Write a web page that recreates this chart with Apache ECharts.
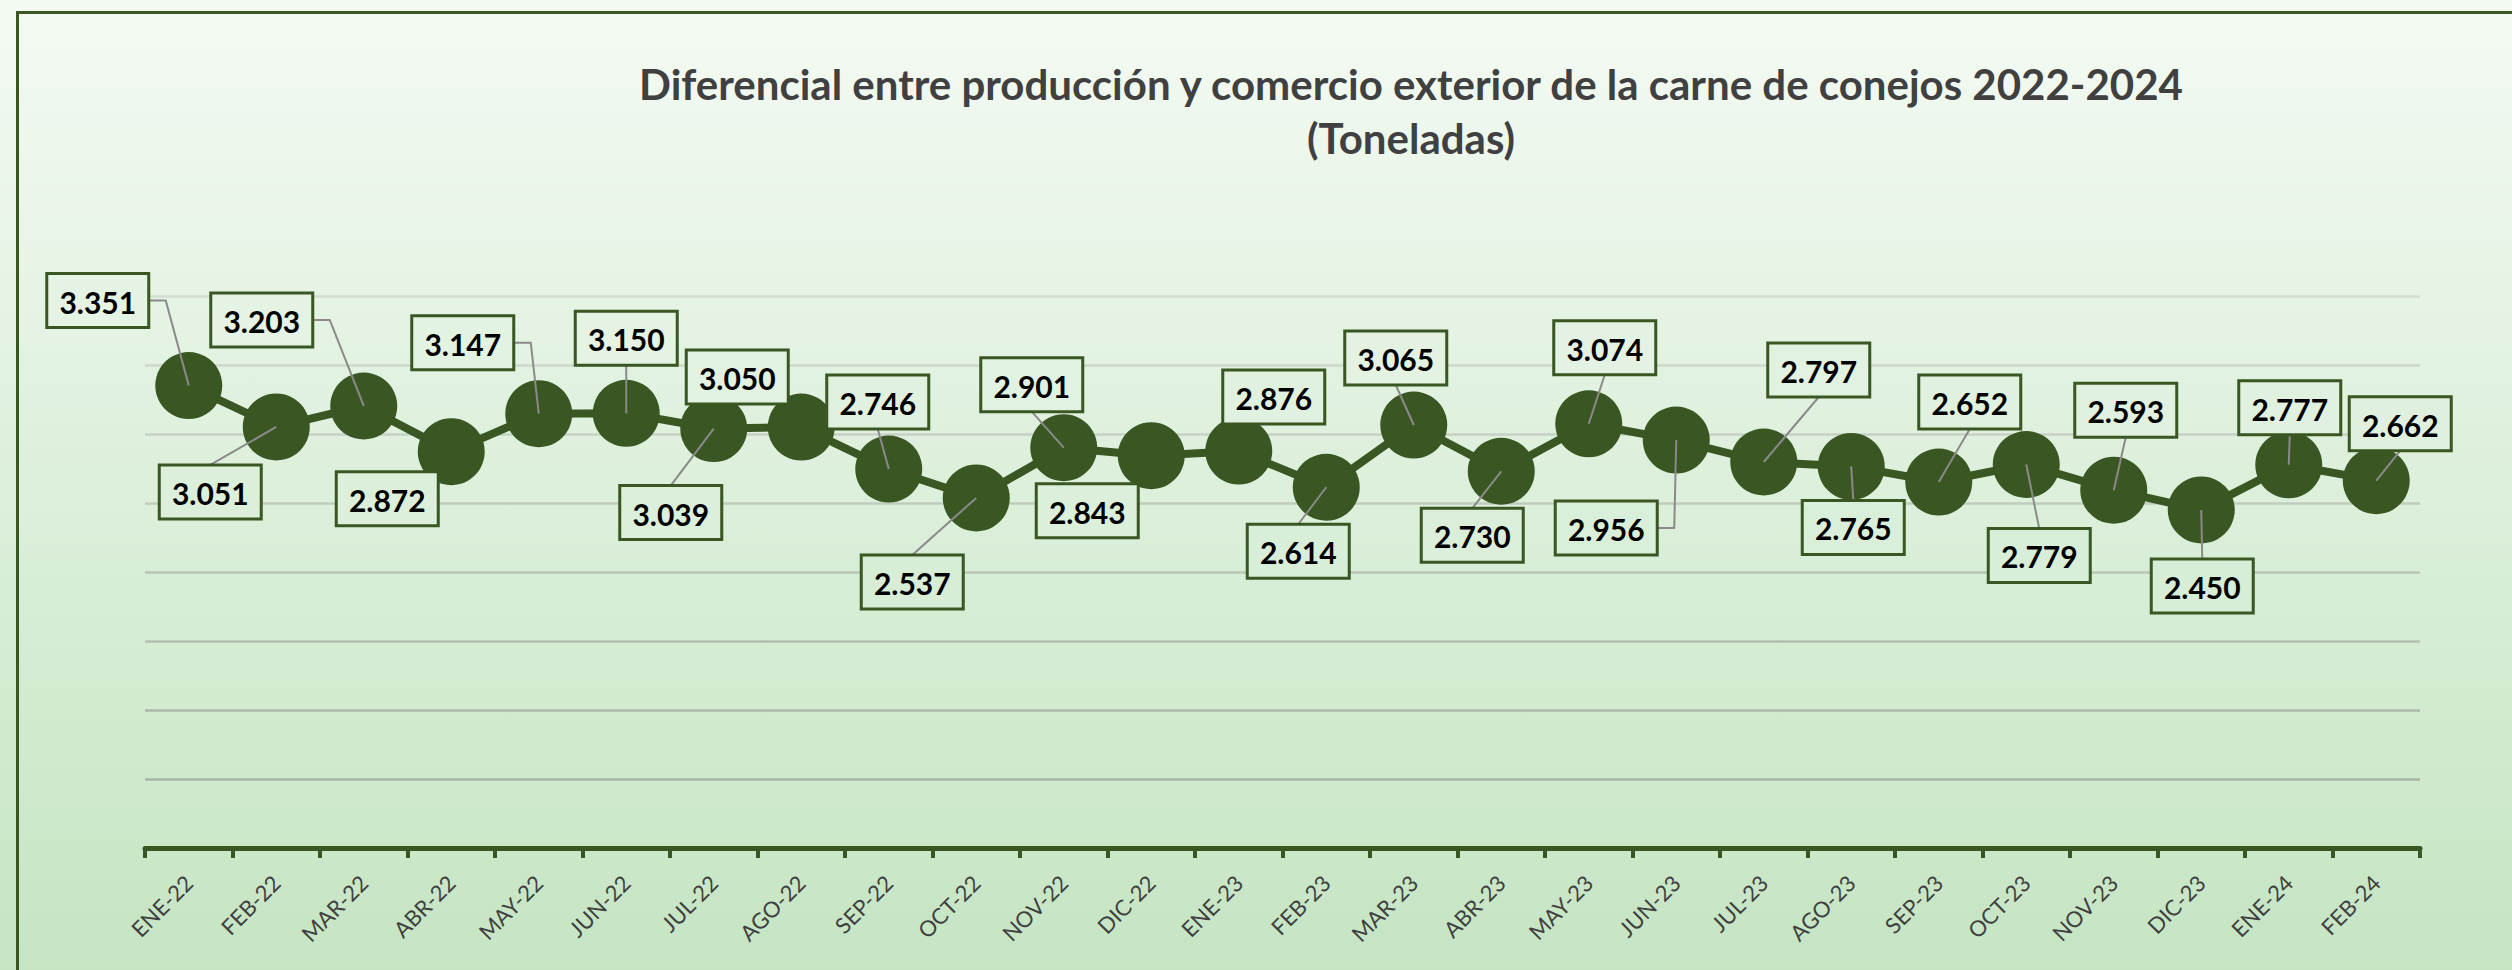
<!DOCTYPE html>
<html>
<head>
<meta charset="utf-8">
<script src="https://cdn.jsdelivr.net/npm/echarts@6/dist/echarts.min.js"></script>
<style>
  html, body { margin: 0; padding: 0; }
  #chart { width: 2512px; height: 970px; background: linear-gradient(to bottom, #f4faf3 0%, #c5e5c3 100%); }
</style>
</head>
<body>
<div id="chart"></div>
<script>
// ---- data ----
const titleLine1 = 'Diferencial entre producción y comercio exterior de la carne de conejos 2022-2024';
const titleLine2 = '(Toneladas)';
const categories = ['ENE-22','FEB-22','MAR-22','ABR-22','MAY-22','JUN-22','JUL-22','AGO-22','SEP-22','OCT-22','NOV-22','DIC-22',
  'ENE-23','FEB-23','MAR-23','ABR-23','MAY-23','JUN-23','JUL-23','AGO-23','SEP-23','OCT-23','NOV-23','DIC-23','ENE-24','FEB-24'];
const values = [3351,3051,3203,2872,3147,3150,3039,3050,2746,2537,2901,2843,
  2876,2614,3065,2730,3074,2956,2797,2765,2652,2779,2593,2450,2777,2662];
const yMin = 0, yMax = 4000, yStep = 500;

// ---- layout (label box offsets from point centre, leader type) ----
const labelOffsets = [
  [-91,-85,'elbow'],[-66,65,'line'],[-102,-86,'elbow'],[-64,47,'none'],[-76,-71,'elbow'],[0,-75,'line'],
  [-43,84,'line'],[-64,-50,'none'],[-11,-67,'line'],[-64,84,'line'],[-32,-63,'line'],[-64,55,'none'],
  [35,-54,'none'],[-28,64,'line'],[-18,-67,'line'],[-29,64,'line'],[16,-76,'line'],[-70,88,'elbow'],
  [55,-92,'line'],[2,61,'line'],[31,-80,'line'],[13,91,'line'],[12,-80,'line'],[1,76,'line'],
  [1,-57,'line'],[24,-57,'line']
];

const GREEN = '#3a5723';
const BOX_W = 102, BOX_H = 54;
function fmt(v) { return String(v).replace(/\B(?=(\d{3})+(?!\d))/g, '.'); }
function bgAt(y) {
  const t = Math.max(0, Math.min(1, y / 970));
  const c0 = [244,250,243], c1 = [197,229,195];
  const c = c0.map((a, i) => Math.round(a + (c1[i] - a) * t));
  return 'rgb(' + c.join(',') + ')';
}

const chart = echarts.init(document.getElementById('chart'), null, { renderer: 'svg' });
const option = {
  backgroundColor: 'transparent',
  animation: false,
  title: {
    text: titleLine1 + '\n' + titleLine2,
    left: 1406,
    top: 52,
    textAlign: 'center',
    textStyle: { fontFamily: 'Lato', fontWeight: 'bold', fontSize: 42, color: '#404040', lineHeight: 54 }
  },
  graphic: [{
    type: 'rect', left: 15, top: 10, silent: true,
    shape: { x: 0, y: 0, width: 3000, height: 2000 },
    style: { fill: 'none', stroke: GREEN, lineWidth: 3 }
  }],
  grid: { left: 145, right: 92, top: 296, bottom: 122, containLabel: false },
  xAxis: {
    type: 'category',
    data: categories,
    boundaryGap: true,
    axisLine: { show: true, lineStyle: { color: GREEN, width: 5 } },
    axisTick: { show: true, alignWithLabel: false, interval: 0, length: 10, lineStyle: { color: GREEN, width: 4 } },
    axisLabel: { interval: 0, rotate: 45, margin: 31, fontFamily: 'Lato', fontSize: 22, color: '#404040' }
  },
  yAxis: {
    type: 'value', min: yMin, max: yMax, interval: yStep,
    axisLabel: { show: false }, axisLine: { show: false }, axisTick: { show: false },
    splitLine: { show: true, lineStyle: { width: 2.5,
      color: ['#a8b4a6','#a8b4a6','#adbaab','#b3c0b1','#b9c6b7','#bfccbd','#c6d1c4','#cdd7cb','#d5ddd3'] } }
  },
  series: [
    {
      type: 'line',
      data: values,
      symbol: 'circle',
      symbolSize: 67,
      z: 2,
      itemStyle: { color: GREEN },
      lineStyle: { color: GREEN, width: 8 },
      label: { show: false }
    },
    {
      type: 'custom',
      z: 5,
      clip: false,
      data: values.map((v, i) => [i, v]),
      renderItem: function (params, api) {
        const i = params.dataIndex;
        const p = api.coord([api.value(0), api.value(1)]);
        const off = labelOffsets[i];
        const cx = p[0] + off[0], cy = p[1] + off[1];
        const children = [];
        if (off[2] === 'elbow') {
          const sx = cx + BOX_W / 2;
          children.push({ type: 'polyline', shape: { points: [[sx, cy], [sx + 17, cy], [p[0], p[1]]] },
            style: { stroke: '#8a8a8a', lineWidth: 2, fill: 'none' } });
        } else if (off[2] === 'line') {
          const sy = off[1] > 0 ? cy - BOX_H / 2 : cy + BOX_H / 2;
          children.push({ type: 'line', shape: { x1: cx, y1: sy, x2: p[0], y2: p[1] },
            style: { stroke: '#8a8a8a', lineWidth: 2 } });
        }
        children.push({ type: 'rect', shape: { x: cx - BOX_W / 2, y: cy - BOX_H / 2, width: BOX_W, height: BOX_H },
          style: { fill: bgAt(cy), stroke: GREEN, lineWidth: 3 } });
        children.push({ type: 'text', x: cx, y: cy + 1,
          style: { text: fmt(api.value(1)), fontFamily: 'Lato', fontWeight: 'bold', fontSize: 30, fill: '#000000',
            align: 'center', verticalAlign: 'middle' } });
        return { type: 'group', children: children };
      }
    }
  ]
};
chart.setOption(option);
</script>
</body>
</html>
